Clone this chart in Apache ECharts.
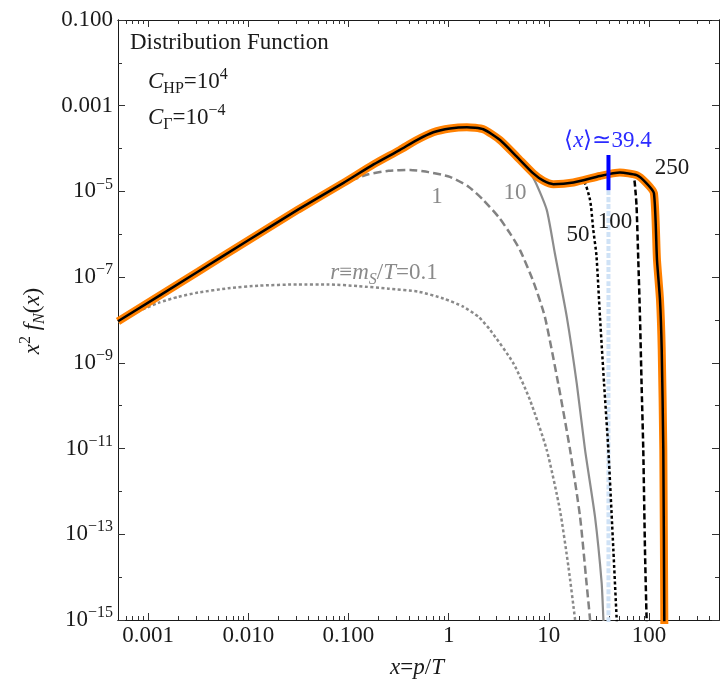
<!DOCTYPE html>
<html>
<head>
<meta charset="utf-8">
<title>Distribution Function</title>
<script src="https://cdn.jsdelivr.net/npm/echarts@6/dist/echarts.min.js"></script>
<style>
  html, body { margin: 0; padding: 0; background: #fff; }
  #main { width: 720px; height: 692px; }
</style>
</head>
<body>
<div id="main"></div>
<script>
// x = p/T  vs  x^2 f_N(x), one curve per r = m_S/T
var r250 = [
    [0.0005, 9.33e-9], [0.00316, 1.35e-7], [0.01, 7.24e-7], [0.0316, 3.80e-6],
    [0.0891, 1.58e-5], [0.178, 4.27e-5], [0.327, 9.33e-5], [0.481, 1.58e-4],
    [0.703, 2.40e-4], [1.03, 2.95e-4], [1.52, 3.16e-4], [2.22, 2.82e-4],
    [3.26, 1.58e-4], [4.79, 6.46e-5], [7.0, 2.63e-5], [8.81, 1.78e-5],
    [11.1, 1.48e-5], [17.6, 1.62e-5], [32.4, 2.29e-5], [51.3, 2.75e-5],
    [75.3, 2.40e-5], [94.6, 1.55e-5], [112, 9.12e-6], [120.2, 2.51e-7],
    [128.8, 2.95e-8], [134, 2.0e-9], [139, 9.33e-12], [142.2, 1e-15],
    [143.2, 1e-16]
];
var r01 = [
    [0.0005, 9.12e-9], [0.000794, 1.58e-8], [0.00126, 2.51e-8], [0.002, 3.47e-8],
    [0.00316, 4.37e-8], [0.00631, 5.50e-8], [0.0126, 6.31e-8], [0.0316, 6.76e-8],
    [0.0631, 6.76e-8], [0.126, 6.17e-8], [0.251, 5.37e-8], [0.501, 4.57e-8],
    [0.891, 3.16e-8], [1.40, 2.04e-8], [2.0, 1.17e-8], [2.59, 5.89e-9],
    [4.43, 9.77e-10], [6.49, 1.35e-10], [9.53, 9.33e-12], [12.9, 3.72e-13],
    [15.7, 1.74e-14], [18.3, 1e-15], [19.5, 2.5e-16]
];
var r1 = [
    [0.0316, 3.72e-6], [0.0631, 9.55e-6], [0.1, 1.70e-5], [0.158, 2.51e-5],
    [0.251, 3.02e-5], [0.412, 3.16e-5], [0.631, 2.82e-5], [1.03, 2.19e-5],
    [1.58, 1.29e-5], [2.22, 6.31e-6], [3.16, 2.51e-6], [4.10, 1.05e-6],
    [5.16, 4.27e-7], [7.0, 7.94e-8], [9.12, 1.20e-8], [12.4, 3.31e-10],
    [16.3, 9.33e-12], [20.5, 2.57e-13], [23.8, 7.24e-15], [25.7, 1.12e-15],
    [26.9, 2.5e-16]
];
var r10 = [
    [2.22, 2.82e-4], [3.26, 1.58e-4], [4.79, 6.46e-5], [5.56, 4.6e-5], [7.24, 1.78e-5],
    [9.53, 3.72e-6], [11.5, 3.55e-7], [15.1, 1.20e-8], [19.0, 3.31e-10],
    [23.0, 9.33e-12], [28.9, 2.57e-13], [33.7, 7.24e-15], [35.0, 1.12e-15],
    [36.3, 2.5e-16]
];
var r50 = [
    [17.6, 1.62e-5], [22.1, 1.72e-5], [25.8, 6.31e-6], [27.8, 1.26e-6],
    [29.9, 3.16e-7], [32.4, 1.20e-8], [35.6, 3.31e-10], [39.3, 9.33e-12],
    [44.1, 4.27e-14], [47.5, 1.12e-15], [49.0, 2.5e-16]
];
var r100 = [
    [51.3, 2.75e-5], [69.7, 2.20e-5], [73.3, 1e-5], [75.2, 4.37e-6],
    [78.2, 2.51e-7], [81.3, 1.20e-8], [84.3, 3.31e-10], [87.7, 9.33e-12],
    [91.2, 4.27e-14], [94.6, 1.12e-15], [96.6, 2.5e-16]
];
// mean <x> marker
var meanX = 39.4;
var meanBar = [[meanX, 7.08e-5], [meanX, 1.07e-5]];
var meanDrop = [[meanX, 1.07e-5], [meanX, 1e-16]];

var xMajor = [0.001, 0.01, 0.1, 1, 10, 100];
var xLabels = ['0.001', '0.010', '0.100', '1', '10', '100'];
var yMajor = [1e-15, 1e-13, 1e-11, 1e-9, 1e-7, 1e-5, 1e-3, 1e-1];
var yMinor = [1e-14, 1e-12, 1e-10, 1e-8, 1e-6, 1e-4, 1e-2];

var xMinor = [];
[0.0001, 0.001, 0.01, 0.1, 1, 10, 100].forEach(function (d) {
    for (var k = 2; k <= 9; k++) {
        var v = +(d * k).toPrecision(3);
        if (v > 0.0005 && v < 500) xMinor.push(v);
    }
});

// one family only, and under 24px: bigger sizes come out in a sans face here
var serif = 'Liberation Serif';
var fs = 23;
var ink = '#1a1a1a';

function richSet(color, big, supLh, subLh) {
    return {
        n: {fontFamily: serif, fontSize: big, lineHeight: 30, color: color, fill: color},
        i: {fontFamily: serif, fontSize: big, lineHeight: 30, fontStyle: 'italic', color: color, fill: color},
        p: {fontFamily: serif, fontSize: big, lineHeight: 24, color: color, fill: color},
        sup: {fontFamily: serif, fontSize: 16, lineHeight: supLh, verticalAlign: 'top', color: color, fill: color},
        sub: {fontFamily: serif, fontSize: 16, lineHeight: subLh, verticalAlign: 'bottom', color: color, fill: color},
        subi: {fontFamily: serif, fontSize: 16, lineHeight: subLh, fontStyle: 'italic', verticalAlign: 'bottom', color: color, fill: color}
    };
}

function yLabel(v) {
    var e = Math.round(Math.log10(v));
    if (e === -1) return '{p|0.100}';
    if (e === -3) return '{p|0.001}';
    return '{n|10}{sup|\u2212' + (-e) + '}';
}

function xLabel(v) {
    var idx = xMajor.findIndex(function (m) { return Math.abs(m - v) / m < 1e-6; });
    return idx >= 0 ? xLabels[idx] : '';
}

function xAx(pos, ticks, len, withLabel) {
    return {
        type: 'log', logBase: 10, position: pos, min: 0.0005, max: 500,
        axisLine: {show: true, onZero: false, lineStyle: {color: ink, width: 1}},
        axisTick: {show: true, inside: true, length: len, customValues: ticks, lineStyle: {color: '#333', width: 1}},
        axisLabel: withLabel ? {
            show: true, customValues: xMajor, margin: 4, formatter: xLabel,
            fontFamily: serif, fontSize: fs, color: ink
        } : {show: false},
        splitLine: {show: false}, minorTick: {show: false}
    };
}

function yAx(pos, ticks, len, withLabel) {
    return {
        type: 'log', logBase: 10, position: pos, min: 1e-15, max: 0.1,
        axisLine: {show: true, onZero: false, lineStyle: {color: ink, width: 1}},
        axisTick: {show: true, inside: true, length: len, customValues: ticks, lineStyle: {color: '#333', width: 1}},
        axisLabel: withLabel ? {
            show: true, customValues: yMajor, margin: 5, formatter: yLabel,
            rich: richSet(ink, fs, 14, 20)
        } : {show: false},
        splitLine: {show: false}, minorTick: {show: false}
    };
}

function curve(data, color, width, dash, z) {
    return {
        type: 'line', data: data, symbol: 'none', showSymbol: false,
        smooth: 0.2, clip: true, silent: true, z: z,
        lineStyle: {color: color, width: width, type: dash, cap: 'butt'}
    };
}

function label(text, x, y, color, align) {
    return {
        type: 'text', x: x, y: y, z: 100,
        style: {text: text, fill: color, font: fs + 'px ' + serif, align: align || 'center', verticalAlign: 'middle'}
    };
}

function richLabel(text, x, y, color, align) {
    return {
        type: 'text', x: x, y: y, z: 100,
        style: {text: text, rich: richSet(color, fs, 18, 20), align: align || 'center', verticalAlign: 'middle'}
    };
}

var chart = echarts.init(document.getElementById('main'), null, {renderer: 'canvas'});

var yName = richLabel('{i|x}{sup|2}{n| }{i|f}{subi|N}{n|(}{i|x}{n|)}', 33, 321, ink);
yName.rotation = Math.PI / 2;

var option = {
    backgroundColor: '#ffffff',
    animation: false,
    grid: {left: 118, right: 1, top: 20, bottom: 72, containLabel: false, outerBoundsMode: 'none'},
    xAxis: [
        xAx('bottom', xMajor, 7, true),
        xAx('bottom', xMinor, 4, false),
        xAx('top', xMajor, 7, false),
        xAx('top', xMinor, 4, false)
    ],
    yAxis: [
        yAx('left', yMajor, 7, true),
        yAx('left', yMinor, 4, false),
        yAx('right', yMajor, 7, false),
        yAx('right', yMinor, 4, false)
    ],
    series: [
        curve(r01, '#8a8a8a', 2.5, [3, 2.5], 3),
        curve(r1, '#828282', 2.5, [8, 4], 3),
        curve(r10, '#8c8c8c', 2.2, 'solid', 3),
        curve(meanDrop, '#cfe2f6', 4, [5, 2], 3),
        curve(r50, '#000000', 2.5, [3, 2.5], 4),
        curve(r100, '#000000', 2.5, [6, 3], 4),
        curve(r250, '#ff8000', 8, 'solid', 5),
        curve(r250, '#000000', 2.5, 'solid', 6),
        curve(meanBar, '#0000ff', 4, 'solid', 7)
    ],
    graphic: [
        label('Distribution Function', 130, 43, ink, 'left'),
        richLabel('{i|C}{sub|HP}{n|=10}{sup|4}', 148, 82, ink, 'left'),
        richLabel('{i|C}{sub|\u0393}{n|=10}{sup|\u22124}', 148, 118, ink, 'left'),
        richLabel('{i|r}{n|\u2261}{i|m}{subi|S}{n|/}{i|T}{n|=0.1}', 384, 273, '#8a8a8a'),
        label('1', 437, 197, '#8a8a8a'),
        label('10', 515, 193, '#8a8a8a'),
        label('50', 578, 235, ink),
        label('100', 615, 222, ink),
        label('250', 672, 168, ink),
        richLabel('{n|\u27e8}{i|x}{n|\u27e9\u224339.4}', 608, 141, '#2b2bff'),
        richLabel('{i|x}{n|=}{i|p}{n|/}{i|T}', 417, 668, ink),
        yName
    ]
};

chart.setOption(option);
</script>
</body>
</html>
